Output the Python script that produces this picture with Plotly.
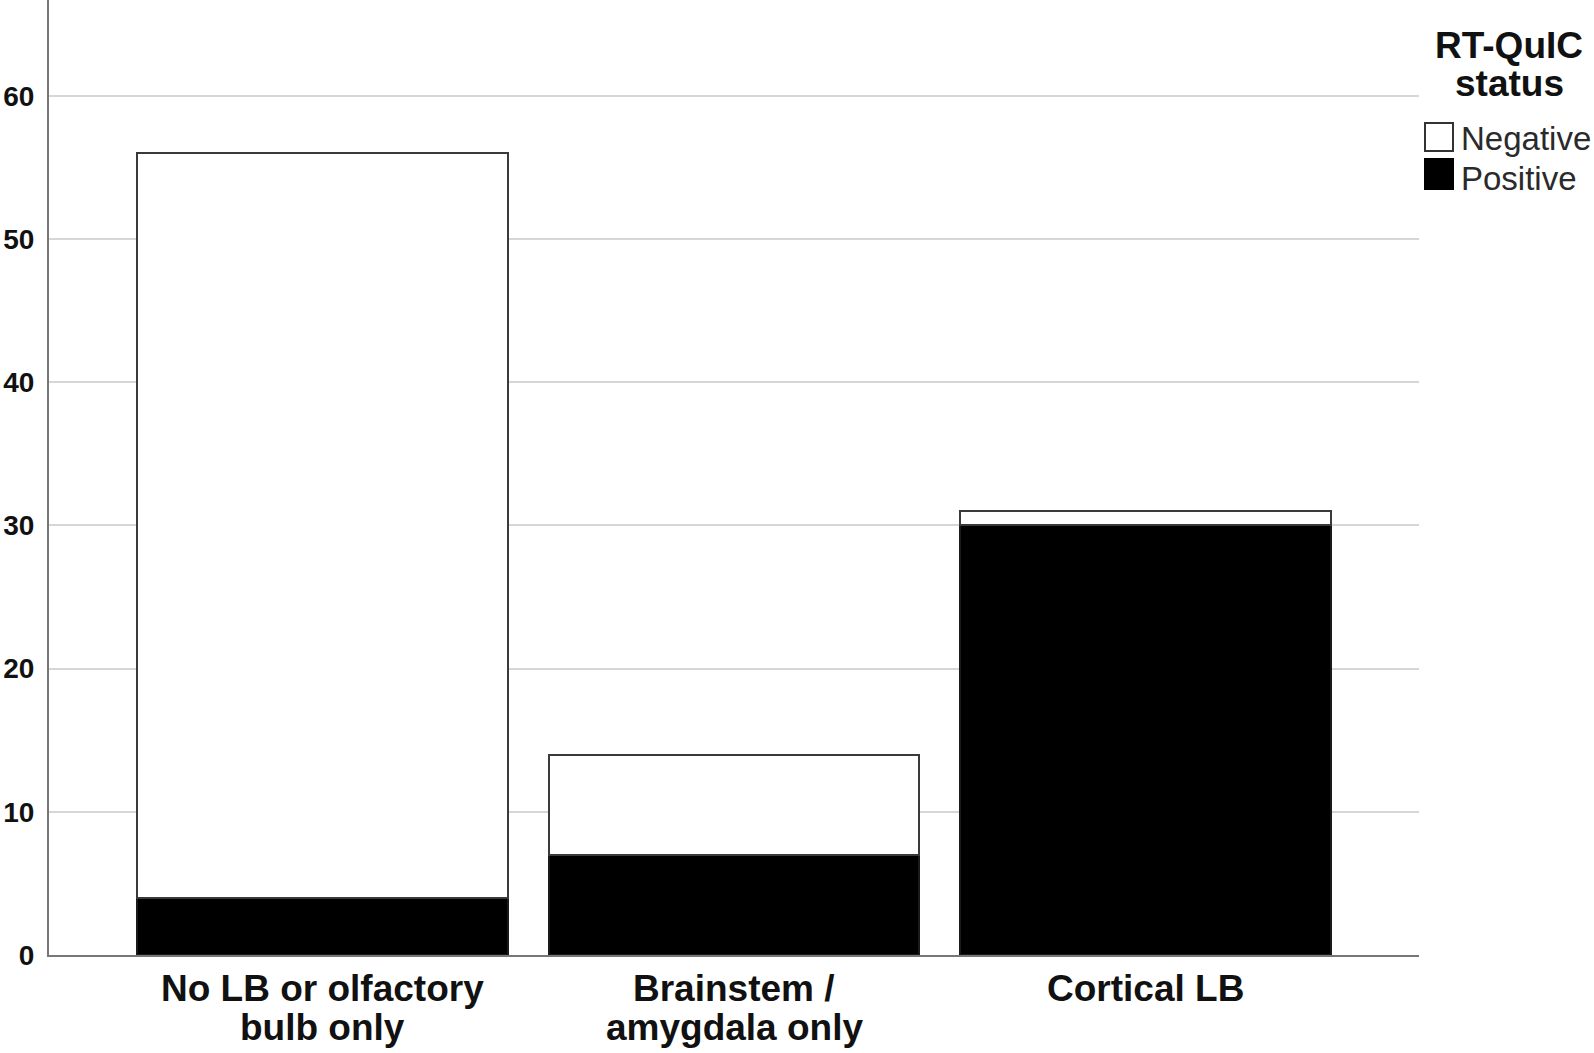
import plotly.graph_objects as go

categories = ["No LB or olfactory bulb only", "Brainstem / amygdala only", "Cortical LB"]
label_lines = [["No LB or olfactory", "bulb only"], ["Brainstem /", "amygdala only"], ["Cortical LB"]]
positive = [4, 7, 30]
negative = [52, 7, 1]
series_names = ["Positive", "Negative"]
legend_title_lines = ["RT-QuIC", "status"]
y_ticks = [0, 10, 20, 30, 40, 50, 60]

FONT = "Liberation Sans, Arial, Helvetica, sans-serif"
W, H = 1594, 1053
L, R, T, B = 49, 175, 0, 98
PW, PH = W - L - R, H - T - B

def px_x(px):
    return (px - L) / PW

def px_y(py):
    return (H - B - py) / PH

xs = list(range(len(categories)))

fig = go.Figure()
fig.add_trace(go.Bar(
    x=xs, y=positive, name=series_names[0], width=0.9,
    marker=dict(color="#000000", line=dict(color="#1a1a1a", width=2)),
    showlegend=False,
))
fig.add_trace(go.Bar(
    x=xs, y=negative, name=series_names[1], width=0.9,
    marker=dict(color="#ffffff", line=dict(color="#3a3a3a", width=2)),
    showlegend=False,
))

annotations = []
for i, lines in enumerate(label_lines):
    for j, line in enumerate(lines):
        annotations.append(dict(
            x=xs[i], xref="x", y=0, yref="paper",
            yanchor="middle", xanchor="center",
            yshift=-(33 + 39 * j),
            text="<b>" + line + "</b>", showarrow=False,
            font=dict(family=FONT, size=37, color="#111111"),
        ))

# custom legend
for j, line in enumerate(legend_title_lines):
    annotations.append(dict(
        x=px_x(1509), xref="paper", y=px_y(46 + 38 * j), yref="paper",
        xanchor="center", yanchor="middle",
        text="<b>" + line + "</b>", showarrow=False,
        font=dict(family=FONT, size=37, color="#111111"),
    ))

legend_items = [(series_names[1], "#ffffff", "#333333", 123, 151, 139),
                (series_names[0], "#000000", "#000000", 159, 189, 178)]
shapes = []
for name, fill, edge, y0, y1, yc in legend_items:
    shapes.append(dict(
        type="rect", xref="paper", yref="paper",
        x0=px_x(1425), x1=px_x(1453), y0=px_y(y1), y1=px_y(y0),
        fillcolor=fill, line=dict(color=edge, width=2),
    ))
    annotations.append(dict(
        x=px_x(1459), xref="paper", y=px_y(yc), yref="paper",
        xanchor="left", yanchor="middle",
        text=name, showarrow=False,
        font=dict(family=FONT, size=33, color="#2a2a2a"),
    ))

fig.update_layout(
    width=W, height=H,
    margin=dict(l=L, r=R, t=T, b=B, pad=0),
    barmode="stack",
    plot_bgcolor="#ffffff", paper_bgcolor="#ffffff",
    showlegend=False,
    annotations=annotations,
    shapes=shapes,
    xaxis=dict(
        range=[-0.665, 2.665], showticklabels=False, ticks="",
        showgrid=False, zeroline=False,
        showline=True, linecolor="#777777", linewidth=2,
    ),
    yaxis=dict(
        range=[0, 66.7], tickvals=y_ticks, ticks="",
        ticklabelstandoff=7,
        tickfont=dict(family=FONT, size=28, color="#111111", weight="bold"),
        showgrid=True, gridcolor="#d6d6d6", gridwidth=2,
        zeroline=False,
        showline=True, linecolor="#777777", linewidth=2,
    ),
)

fig.write_html("out.html", config={"displayModeBar": False},
               post_script="document.body.style.margin='0px';")
